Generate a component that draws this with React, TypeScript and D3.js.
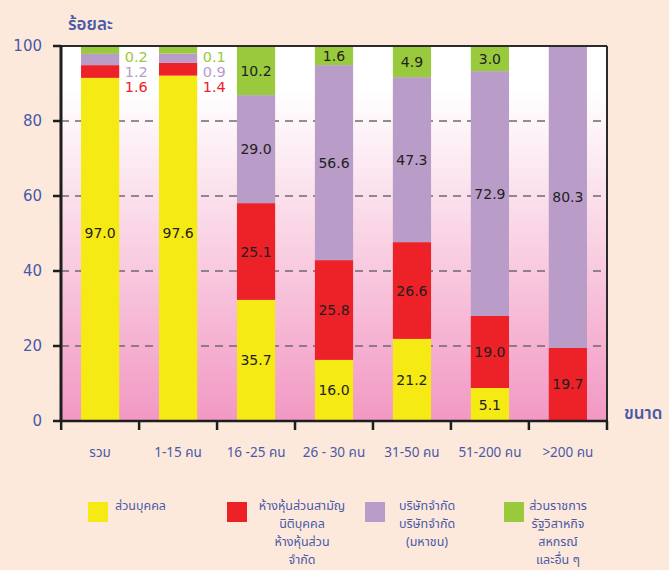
import React, { useEffect } from 'react';
import * as d3 from 'd3';

// categories (enterprise size)
const categories = ['รวม', '1-15 คน', '16 -25 คน', '26 - 30 คน', '31-50 คน', '51-200 คน', '>200 คน'];

// segment heights as drawn against the axis (percent)
const personalH = [91.5, 92.1, 32.3, 16.3, 21.9, 8.8, 0];
const partnershipH = [3.4, 3.4, 25.8, 26.6, 25.8, 19.2, 19.5];
const companyH = [3.0, 2.5, 28.8, 52.0, 44.0, 65.3, 80.5];
const otherH = [2.1, 2.0, 13.1, 5.1, 8.3, 6.7, 0];

// printed values
const personalLbl = ['97.0', '97.6', '35.7', '16.0', '21.2', '5.1', ''];
const partnershipLbl = ['1.6', '1.4', '25.1', '25.8', '26.6', '19.0', '19.7'];
const companyLbl = ['1.2', '0.9', '29.0', '56.6', '47.3', '72.9', '80.3'];
const otherLbl = ['0.2', '0.1', '10.2', '1.6', '4.9', '3.0', ''];

const yTicks = [0, 20, 40, 60, 80, 100];
const gridTicks = [20, 40, 60, 80];

const series = [
  { key: 'personal', color: '#f5ea14', heights: personalH, labels: personalLbl, legend: ['ส่วนบุคคล'] },
  { key: 'partnership', color: '#ed2228', heights: partnershipH, labels: partnershipLbl, legend: ['ห้างหุ้นส่วนสามัญ', 'นิติบุคคล', 'ห้างหุ้นส่วน', 'จำกัด'] },
  { key: 'company', color: '#b99cc8', heights: companyH, labels: companyLbl, legend: ['บริษัทจำกัด', 'บริษัทจำกัด', '(มหาชน)'] },
  { key: 'other', color: '#99c93c', heights: otherH, labels: otherLbl, legend: ['ส่วนราชการ', 'รัฐวิสาหกิจ', 'สหกรณ์', 'และอื่น ๆ'] },
];

// bars whose small segments are labelled beside the bar
const sideLabelBars = [0, 1];

const W = 669;
const H = 570;
const blue = '#4a5aa6';
const thaiFont = "Tahoma, 'Noto Sans Thai', 'Noto Sans', sans-serif";
const numFont = "'DejaVu Sans', Verdana, sans-serif";

export default function App() {
  useEffect(() => {
    document.body.style.margin = '0';
  }, []);

  const left = 61, right = 607, top = 46, bottom = 421;

  const x = d3.scaleBand<string>().domain(categories).range([left, right]).paddingInner(0.51).paddingOuter(0.257);
  const y = d3.scaleLinear().domain([0, 100]).range([bottom, top]);
  const bw = x.bandwidth();
  const step = x.step();

  const stackData = categories.map((c, i) => {
    const row: any = { cat: c };
    series.forEach(s => (row[s.key] = s.heights[i]));
    return row;
  });
  const stacked = d3.stack<any>().keys(series.map(s => s.key))(stackData);

  const legendX = [88, 227, 365, 504];
  const legendTextX = [115, 302, 427, 558];

  return (
    <svg width={W} height={H} style={{ display: 'block', fontFamily: thaiFont }}>
      <defs>
        <linearGradient id="plotBg" x1="0" y1="0" x2="0" y2="1">
          <stop offset="0" stopColor="#ffffff" />
          <stop offset="0.12" stopColor="#ffffff" />
          <stop offset="0.55" stopColor="#f9cfe2" />
          <stop offset="1" stopColor="#f298c3" />
        </linearGradient>
      </defs>
      <rect width={W} height={H} fill="#fde9dc" />
      <rect x={left} y={top} width={right - left} height={bottom - top} fill="url(#plotBg)" />

      {/* grid */}
      {gridTicks.map(t => (
        <line key={t} x1={left} x2={right} y1={y(t)} y2={y(t)} stroke="#6e6a6c" strokeWidth={1.5} strokeDasharray="8,6" />
      ))}

      {/* bars */}
      {stacked.map((layer, si) => (
        <g key={layer.key} fill={series[si].color}>
          {layer.map((d, i) =>
            d[1] - d[0] > 0 ? (
              <rect key={i} x={x(categories[i])} y={y(d[1])} width={bw} height={y(d[0]) - y(d[1])} />
            ) : null
          )}
        </g>
      ))}

      {/* in-bar labels */}
      {stacked.map((layer, si) => (
        <g key={'l' + layer.key} fontSize={14} fill="#231f20" textAnchor="middle" fontFamily={numFont}>
          {layer.map((d, i) => {
            const lbl = series[si].labels[i];
            if (!lbl) return null;
            if (sideLabelBars.includes(i) && si > 0) return null;
            const cy = sideLabelBars.includes(i) ? y(91.5 / 2) - 16 : (y(d[0]) + y(d[1])) / 2;
            return (
              <text key={i} x={(x(categories[i]) as number) + bw / 2} y={cy} dy="0.36em">
                {lbl}
              </text>
            );
          })}
        </g>
      ))}

      {/* side labels for thin segments */}
      {sideLabelBars.map(i => (
        <g key={'s' + i} fontSize={14.5} textAnchor="middle" fontFamily={numFont}>
          {[3, 2, 1].map((si, k) => (
            <text key={si} x={(x(categories[i]) as number) + bw + 17} y={y(100) + 11 + k * 15} dy="0.36em" fill={series[si].color}>
              {series[si].labels[i]}
            </text>
          ))}
        </g>
      ))}

      {/* frame */}
      <line x1={left} x2={right} y1={top} y2={top} stroke="#2b2b2b" strokeWidth={2} />
      <line x1={right} x2={right} y1={top} y2={bottom} stroke="#2b2b2b" strokeWidth={2} />
      <line x1={left} x2={left} y1={top - 1} y2={bottom + 1} stroke="#1e1e1e" strokeWidth={3} />
      <line x1={left} x2={right + 1} y1={bottom} y2={bottom} stroke="#1e1e1e" strokeWidth={2.5} />

      {/* y axis */}
      {yTicks.map(t => (
        <g key={t}>
          <line x1={left - 8} x2={left} y1={y(t)} y2={y(t)} stroke="#1e1e1e" strokeWidth={2.5} />
          <text x={42} y={y(t)} dy="0.36em" textAnchor="end" fontSize={15} fill={blue} fontFamily={numFont}>
            {t}
          </text>
        </g>
      ))}
      <text x={68} y={30} fontSize={17} fill={blue} fontWeight={600}>ร้อยละ</text>

      {/* x axis */}
      {categories.map((c, i) => (
        <line key={i} x1={(x(c) as number) + bw / 2 - step / 2} x2={(x(c) as number) + bw / 2 - step / 2} y1={bottom} y2={bottom + 9} stroke="#1e1e1e" strokeWidth={2.5} />
      ))}
      <line x1={right} x2={right} y1={bottom} y2={bottom + 9} stroke="#1e1e1e" strokeWidth={2.5} />
      {categories.map(c => (
        <text key={c} x={(x(c) as number) + bw / 2} y={457} textAnchor="middle" fontSize={13.5} fill={blue}>
          {c}
        </text>
      ))}
      <text x={624} y={419} fontSize={17} fill={blue} fontWeight={600}>ขนาด</text>

      {/* legend */}
      {series.map((s, si) => (
        <g key={'lg' + s.key}>
          <rect x={legendX[si]} y={502} width={20} height={20} fill={s.color} />
          {s.legend.map((line, k) => (
            <text key={k} x={legendTextX[si]} y={510 + k * 18} textAnchor={si === 0 ? 'start' : 'middle'} fontSize={12.5} fill={blue}>
              {line}
            </text>
          ))}
        </g>
      ))}
    </svg>
  );
}
